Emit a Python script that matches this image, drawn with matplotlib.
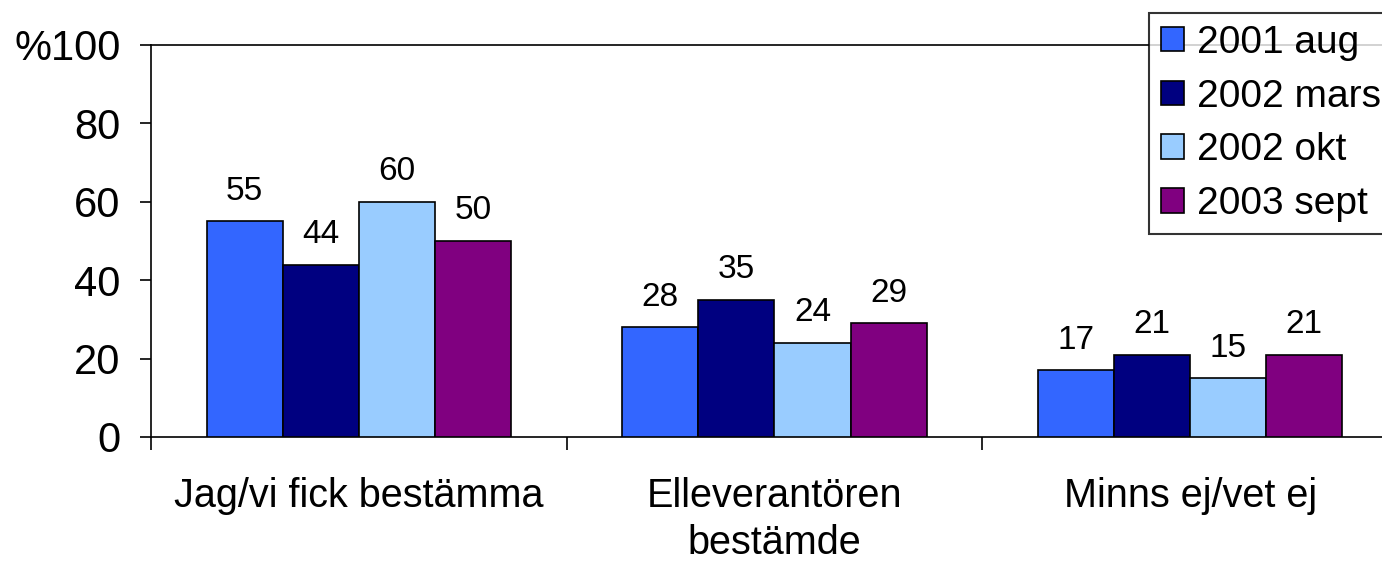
import numpy as np
import matplotlib.pyplot as plt

plt.rcParams['font.family'] = ['Liberation Sans', 'DejaVu Sans']

categories = ['Jag/vi fick bestämma', 'Elleverantören\nbestämde', 'Minns ej/vet ej']
series_names = ['2001 aug', '2002 mars', '2002 okt', '2003 sept']
values = [
    [55, 28, 17],   # 2001 aug
    [44, 35, 21],   # 2002 mars
    [60, 24, 15],   # 2002 okt
    [50, 29, 21],   # 2003 sept
]
colors = ['#3366FF', '#000080', '#99CCFF', '#800080']
y_ticks = [0, 20, 40, 60, 80, 100]
y_ticklabels = ['0', '20', '40', '60', '80', '%100']

fig = plt.figure(figsize=(13.82, 5.63), dpi=100)
ax = fig.add_axes([151 / 1382, 126 / 563, 1247 / 1382, 392 / 563])

x = np.arange(len(categories)) + 0.5
bar_w = 0.183
for i, (name, vals) in enumerate(zip(series_names, values)):
    pos = x + (i - 1.5) * bar_w
    bars = ax.bar(pos, vals, bar_w, color=colors[i], edgecolor='black',
                  linewidth=1.2, label=name, zorder=3)
    for b, v in zip(bars, vals):
        ax.annotate(str(v), (b.get_x() + b.get_width() / 2, v),
                    xytext=(0, 10.5), textcoords='offset points',
                    ha='center', va='bottom', fontsize=24)

ax.set_xlim(0, 3)
ax.set_ylim(0, 100)
ax.set_yticks(y_ticks)
ax.set_yticklabels(y_ticklabels, fontsize=30)
ax.set_xticks([0, 1, 2, 3])
ax.set_xticklabels([])
ax.set_xticks(x, minor=True)
ax.set_xticklabels(categories, minor=True, fontsize=28.5, linespacing=1.3)
ax.tick_params(axis='x', which='major', direction='out', length=9, width=1.2)
ax.tick_params(axis='x', which='minor', length=0, pad=29)
ax.tick_params(axis='y', direction='out', length=8, width=1.2, pad=14)

for side in ['left', 'bottom', 'top']:
    ax.spines[side].set_linewidth(1.2)
ax.spines['right'].set_visible(False)

leg = fig.legend(loc='upper left', bbox_to_anchor=(1149 / 1382, 1 - 13 / 563),
                 fontsize=28, frameon=True, fancybox=False, edgecolor='black',
                 handlelength=0.6, handleheight=0.6, handletextpad=0.33,
                 borderpad=0.3, labelspacing=0.46, borderaxespad=0)
leg.get_frame().set_linewidth(1.5)
leg.set_zorder(10)

fig.savefig('out.png', dpi=100)
